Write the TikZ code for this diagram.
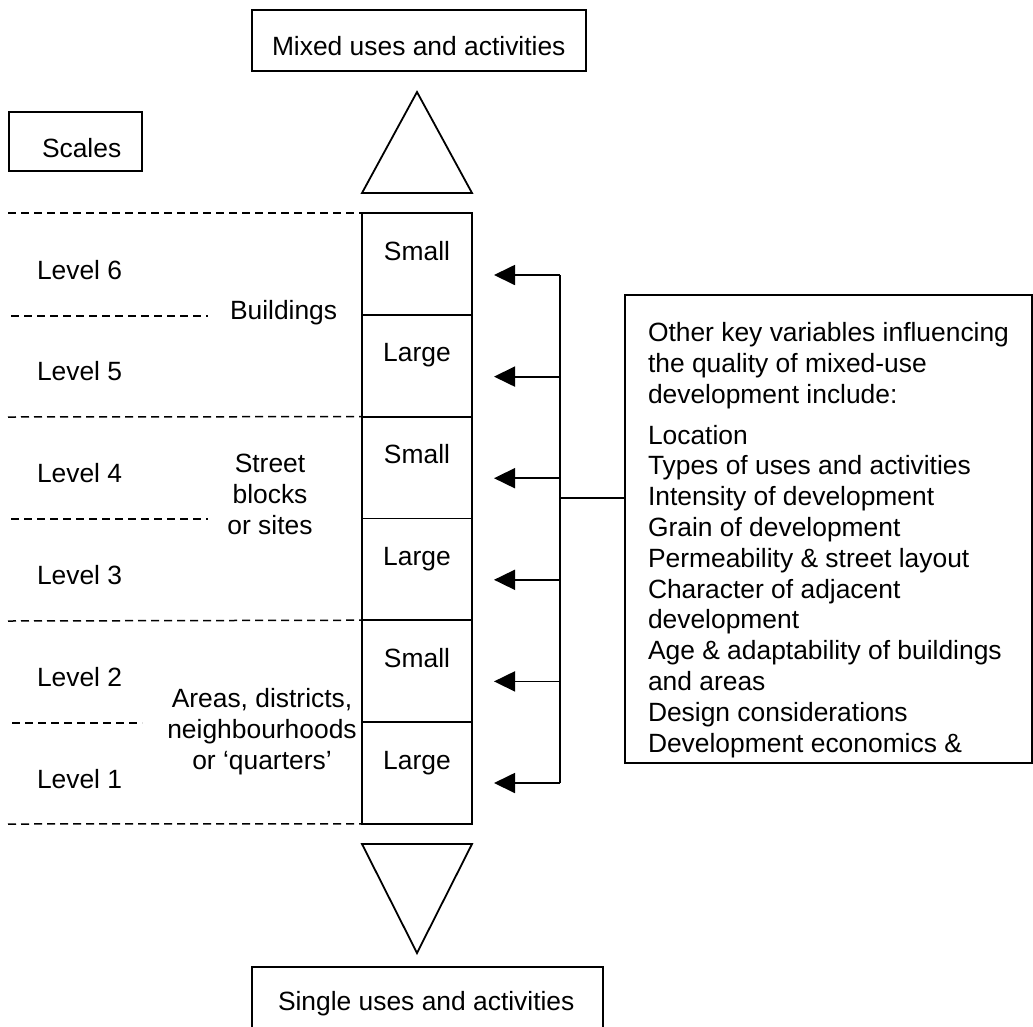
\documentclass[tikz,border=0pt]{standalone}
\usepackage{fontspec}
\setmainfont{Liberation Sans}
\usetikzlibrary{arrows.meta}
\begin{document}
\begin{tikzpicture}[x=1pt,y=-1pt,
  every node/.style={font=\fontsize{26.4}{30.8}\selectfont, inner sep=0pt, outer sep=0pt},
  box/.style={draw, line width=1.8pt, anchor=north west},
  cell/.style={draw, line width=1.8pt, anchor=north west, minimum width=110pt, minimum height=101.8pt},
  dline/.style={line width=1.5pt, dash pattern=on 8pt off 5pt},
  shape line/.style={line width=1.8pt, line join=miter},
  arr/.style={line width=1.8pt, -{Triangle[length=21pt,width=20pt]}},
  bus/.style={line width=1.8pt}]
\useasboundingbox (0,0) rectangle (1033,1026);

% top box
\node[box, minimum width=334pt, minimum height=61pt] (mixedbox) at (252,10) {};
\node[anchor=base west] (mixed) at (272,55) {Mixed uses and activities};

% scales box
\node[box, minimum width=133pt, minimum height=59pt] (scalesbox) at (9,112) {};
\node[anchor=base west] (scales) at (42,157) {Scales};

% up triangle
\draw[shape line] (362,193) -- (417,92) -- (472,193) -- cycle;

% column cells
\foreach \i/\nm/\lab in {0/c6/Small,1/c5/Large,2/c4/Small,3/c3/Large,4/c2/Small,5/c1/Large}{
  \node[cell] (\nm) at (362,{213+101.8*\i}) {};
  \node[anchor=base] (\nm-t) at (417,{260+101.8*\i}) {\lab};
}

% level labels
\foreach \i/\n in {0/6,1/5,2/4,3/3,4/2,5/1}{
  \node[anchor=base west] (lev\n) at (37,{279+101.8*\i}) {Level \n};
}

% dashed separators
\coordinate (d6) at (8,213);
\coordinate (d4) at (8,417);
\coordinate (d2) at (8,621);
\coordinate (d0) at (8,824);
\draw[dline] (d6) -- (c6.north west);
\draw[dline] (d4) -- (c4.north west);
\draw[dline] (d2) -- (c2.north west);
\draw[dline] (d0) -- (c1.south west);
\coordinate (s5a) at (11,316); \coordinate (s5b) at (208,316);
\coordinate (s3a) at (11,519); \coordinate (s3b) at (208,519);
\coordinate (s1a) at (12,723); \coordinate (s1b) at (142,723);
\draw[dline] (s5a) -- (s5b);
\draw[dline] (s3a) -- (s3b);
\draw[dline] (s1a) -- (s1b);

% group labels
\node[anchor=base west] (buildings) at (230,319) {Buildings};
\node[anchor=north, align=center] (street) at (270,454.5) {Street\\blocks\\or sites};
\node[anchor=north, align=center] (areas) at (262,688.7) {Areas, districts,\\neighbourhoods\\or ‘quarters’};

% down triangle
\draw[shape line] (362,844) -- (472,844) -- (417,953) -- cycle;

% bottom box (cut by page edge)
\draw[line width=1.8pt] (252,1030) -- (252,967) -- (603,967) -- (603,1030);
\node[anchor=base west] (single) at (278,1010) {Single uses and activities};

% arrows
\foreach \i/\n in {0/6,1/5,2/4,3/3,4/2,5/1}{
  \coordinate (b\n) at (560,{275+101.6*\i});
  \coordinate (t\n) at (494,{275+101.6*\i});
  \draw[arr] (b\n) -- (t\n);
}
\draw[bus] (b6) -- (b1);

% right box
\node[box, minimum width=407pt, minimum height=468pt] (vars) at (625,295) {};
\coordinate (join) at (560,498);
\draw[bus] (join) -- (join -| vars.west);
\node[anchor=north west, align=left] (varstext) at (648,322.6) {Other key variables influencing\\the quality of mixed-use\\development include:\\[10pt]Location\\Types of uses and activities\\Intensity of development\\Grain of development\\Permeability \& street layout\\Character of adjacent\\development\\Age \& adaptability of buildings\\and areas\\Design considerations\\Development economics \&};
\end{tikzpicture}
\end{document}
